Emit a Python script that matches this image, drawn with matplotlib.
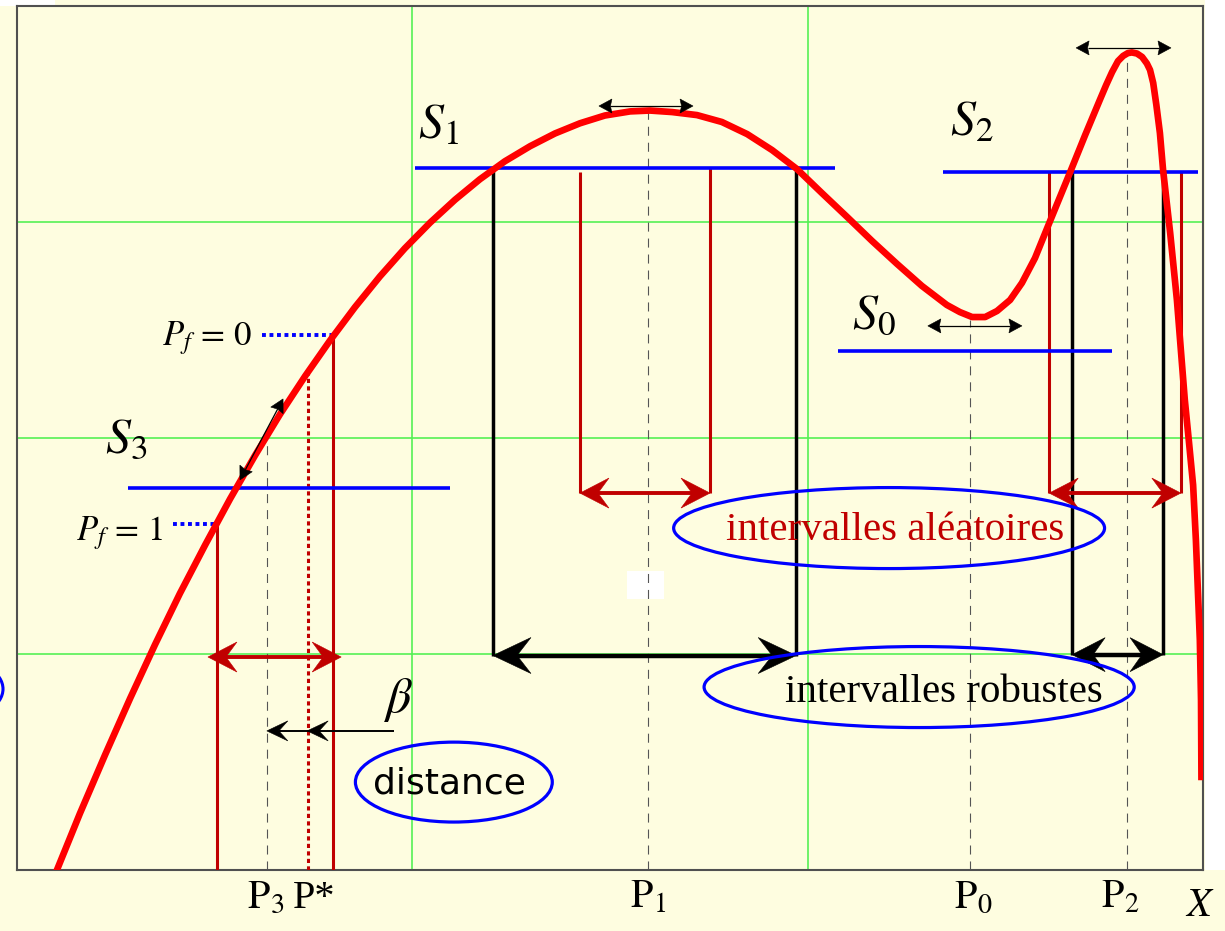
import numpy as np
import matplotlib
matplotlib.use("Agg")
import matplotlib.pyplot as plt
from matplotlib.patches import Polygon, Ellipse, Rectangle

plt.rcParams['mathtext.fontset'] = 'stix'
plt.rcParams['lines.scale_dashes'] = False

# ---------------- data ----------------
# response curve of the system versus the design variable X
curve_x = [0.101, 0.159, 0.223, 0.286, 0.349, 0.412, 0.476, 0.539, 0.602, 0.665,
           0.729, 0.792, 0.855, 0.918, 0.981, 1.045, 1.108, 1.171, 1.234, 1.298,
           1.361, 1.424, 1.487, 1.551, 1.601, 1.657, 1.720, 1.783, 1.847, 1.910,
           1.973, 2.036, 2.100, 2.163, 2.226, 2.289, 2.352, 2.385, 2.416, 2.449,
           2.479, 2.512, 2.542, 2.575, 2.605, 2.633, 2.664, 2.702, 2.739, 2.755,
           2.770, 2.785, 2.798, 2.810, 2.820, 2.833, 2.846, 2.858, 2.866, 2.874,
           2.882, 2.891, 2.899, 2.917, 2.934, 2.954, 2.964, 2.975, 2.982, 2.987,
           2.992, 2.995, 2.996]
curve_y = [0.000, 0.261, 0.534, 0.794, 1.043, 1.280, 1.505, 1.718, 1.919, 2.109,
           2.287, 2.452, 2.606, 2.748, 2.878, 2.997, 3.103, 3.198, 3.281, 3.351,
           3.410, 3.457, 3.493, 3.512, 3.516, 3.509, 3.495, 3.463, 3.407, 3.333,
           3.245, 3.134, 3.023, 2.912, 2.806, 2.704, 2.616, 2.583, 2.560, 2.560,
           2.588, 2.639, 2.718, 2.833, 2.968, 3.093, 3.231, 3.403, 3.565, 3.634,
           3.694, 3.745, 3.769, 3.782, 3.785, 3.780, 3.764, 3.734, 3.704, 3.644,
           3.542, 3.412, 3.241, 2.949, 2.639, 2.176, 1.991, 1.782, 1.528, 1.296,
           1.065, 0.787, 0.431]

# threshold levels S1, S2, S0, S3
level_labels = [r'$S_1$', r'$S_2$', r'$S_0$', r'$S_3$']
level_y = [3.250, 3.231, 2.403, 1.769]
level_x0 = [1.007, 2.342, 2.077, 0.281]
level_x1 = [2.069, 2.987, 2.770, 1.095]
level_label_x = [1.015, 2.361, 2.113, 0.223]
level_label_y = [3.389, 3.403, 2.509, 1.935]

# robust intervals (black)
robust_lo = [1.204, 2.669]
robust_hi = [1.971, 2.899]
robust_top = [3.250, 3.231]
robust_arrow_y = [0.993, 0.997]

# random intervals (dark red)
random_lo = [1.424, 2.611]
random_hi = [1.753, 2.944]
random_top_lo = [3.231, 3.231]
random_top_hi = [3.250, 3.231]
random_arrow_y = [1.745, 1.745]

# reliability zone near S3
pf_labels = [r'$P_f\,=\,1$', r'$P_f\,=\,0$']
pf_x = [0.506, 0.799]
pf_y = [1.600, 2.475]
pf_dot_start = [0.395, 0.620]
pf_label_x = [0.150, 0.366]
pf_label_y = [1.528, 2.431]
pf_arrow_x = [0.483, 0.820]
pf_arrow_y = 0.986
pstar_x = 0.736
pstar_top = 2.306

# optimum positions (dashed markers)
opt_x = [0.632, 1.596, 2.411, 2.808]
opt_top = [2.005, 3.520, 2.545, 3.780]

# small sensitivity arrows at the extrema
sens_x0 = [1.472, 2.304, 2.679]
sens_x1 = [1.710, 2.542, 2.919]
sens_y = [3.537, 2.519, 3.806]
slope_arrow = [(0.564, 1.806), (0.673, 2.181)]

# reliability index beta
beta_x0, beta_x1, beta_mid, beta_y = 0.954, 0.632, 0.734, 0.644

# axis labels along X
xlabels = [r'$\mathrm{P}_3$', 'P*', r'$\mathrm{P}_1$', r'$\mathrm{P}_0$', r'$\mathrm{P}_2$']
xlabel_pos = [0.630, 0.752, 1.596, 2.418, 2.790]

# ---------------- figure ----------------
W, H = 1225, 931
BG = '#FEFDE0'
RED = '#FF0000'
DRED = '#C00000'
BLUE = '#0000FF'
GREEN = '#55F055'
GRAY = '#555555'

fig = plt.figure(figsize=(W / 100, H / 100), dpi=100, facecolor=BG)
ax = fig.add_axes([17 / W, (H - 870) / H, (1203 - 17) / W, (870 - 6) / H])
ax.set_facecolor(BG)
ax.set_xlim(0, 3)
ax.set_ylim(0, 4)
ax.set_xticks([1, 2])
ax.set_yticks([1, 2, 3])
ax.tick_params(length=0, labelbottom=False, labelleft=False)
ax.grid(True, color=GREEN, lw=1.2, zorder=0)
ax.set_axisbelow(True)
for s in ax.spines.values():
    s.set_color('#505050')
    s.set_linewidth(1.5)

# white patches around the frame
fig.patches.append(Rectangle((1205 / W, (H - 870) / H), 1 - 1205 / W, 870 / H,
                             transform=fig.transFigure, fc='white', ec='none', zorder=-1))
fig.patches.append(Rectangle((0, (H - 6) / H), 55 / W, 6 / H,
                             transform=fig.transFigure, fc='white', ec='none', zorder=-1))
ax.add_patch(Rectangle((1.543, 1.255), 0.094, 0.130, fc='white', ec='none', zorder=1))
fig.add_artist(Ellipse((-0.45, (H - 689) / 100), 0.96, 0.60, transform=fig.dpi_scale_trans,
                       fill=False, ec=BLUE, lw=2.2))


def arrow(p0, p1, color, lw, L, Wd, N, start=True, end=True, z=6, extra=()):
    a = ax.transData.transform(p0)
    b = ax.transData.transform(p1)
    d = b - a
    u = d / np.hypot(*d)
    inv = ax.transData.inverted()
    s0 = a + u * (L - N) if start else a
    s1 = b - u * (L - N) if end else b
    q = inv.transform([s0, s1])
    ax.plot(q[:, 0], q[:, 1], color=color, lw=lw, solid_capstyle='butt', zorder=z)
    tips = []
    if start:
        tips.append((a, -u))
    if end:
        tips.append((b, u))
    for e in extra:
        tips.append((ax.transData.transform(e), u))
    for t, v in tips:
        pv = np.array([-v[1], v[0]])
        verts = [t, t - v * L + pv * Wd, t - v * (L - N), t - v * L - pv * Wd]
        ax.add_patch(Polygon(inv.transform(verts), closed=True, fc=color, ec=color,
                             lw=0.4, zorder=z, clip_on=False))


# dashed optimum markers
for x, top in zip(opt_x, opt_top):
    ax.plot([x, x], [0, top], color=GRAY, lw=0.8, ls=(0, (6.5, 5)), zorder=2)

# robust intervals
for lo, hi, top, ya in zip(robust_lo, robust_hi, robust_top, robust_arrow_y):
    ax.plot([lo, lo], [ya, top], color='black', lw=2.5, zorder=3, solid_capstyle='butt')
    ax.plot([hi, hi], [ya, top], color='black', lw=2.5, zorder=3, solid_capstyle='butt')
big = [dict(L=38, Wd=18, N=14), dict(L=33, Wd=17, N=12)]
for lo, hi, ya, h in zip(robust_lo, robust_hi, robust_arrow_y, big):
    arrow((lo, ya), (hi, ya), 'black', 3.2, **h)

# random intervals
for lo, hi, tl, th, ya in zip(random_lo, random_hi, random_top_lo, random_top_hi, random_arrow_y):
    ax.plot([lo, lo], [ya, tl], color=DRED, lw=2.2, zorder=3, solid_capstyle='butt')
    ax.plot([hi, hi], [ya, th], color=DRED, lw=2.2, zorder=3, solid_capstyle='butt')
    arrow((lo, ya), (hi, ya), DRED, 2.8, L=29, Wd=15, N=11)

# reliability zone
for x, y, xs in zip(pf_x, pf_y, pf_dot_start):
    ax.plot([x, x], [0, y], color=DRED, lw=2.2, zorder=3, solid_capstyle='butt')
    ax.plot([xs, x], [y, y], color=BLUE, lw=2.8, ls=(0, (2.8, 2.6)), zorder=3,
            dash_capstyle='butt')
ax.plot([pstar_x, pstar_x], [0, pstar_top], color=DRED, lw=2.2, ls=(0, (3.0, 2.4)),
        dash_capstyle='butt', zorder=3)
arrow((pf_arrow_x[0], pf_arrow_y), (pf_arrow_x[1], pf_arrow_y), DRED, 2.8, L=29, Wd=15, N=11)

# threshold levels
for lab, y, x0, x1, lx, ly in zip(level_labels, level_y, level_x0, level_x1,
                                  level_label_x, level_label_y):
    ax.plot([x0, x1], [y, y], color=BLUE, lw=2.6, zorder=4, solid_capstyle='butt')
    ax.text(lx, ly, lab, fontsize=36, ha='left', va='baseline', zorder=8)

# response curve
ax.plot(curve_x, curve_y, color=RED, lw=4.8, zorder=5, solid_joinstyle='round')

# sensitivity arrows
for x0, x1, y in zip(sens_x0, sens_x1, sens_y):
    arrow((x0, y), (x1, y), 'black', 0.9, L=13, Wd=7, N=1.5, z=7)
arrow(slope_arrow[0], slope_arrow[1], 'black', 0.9, L=13, Wd=7, N=1.5, z=7)

# beta distance arrow
arrow((beta_x0, beta_y), (beta_x1, beta_y), 'black', 1.4, L=21, Wd=10, N=9,
      start=False, end=True, z=7, extra=[(beta_mid, beta_y)])
ax.text(0.964, 0.787, r'$\beta$', fontsize=36, ha='center', va='center', zorder=8)

# Pf labels
for lab, lx, ly in zip(pf_labels, pf_label_x, pf_label_y):
    ax.text(lx, ly, lab, fontsize=25, ha='left', va='baseline', zorder=8)

# annotation ellipses
ax.add_patch(Ellipse((1.105, 0.407), 0.498, 0.370, fill=False, ec=BLUE, lw=2.3, zorder=7))
ax.text(1.093, 0.356, 'distance', fontsize=26, family='DejaVu Sans', ha='center',
        va='baseline', zorder=8)
ax.add_patch(Ellipse((2.206, 1.583), 1.090, 0.375, fill=False, ec=BLUE, lw=2.3, zorder=7))
ax.text(2.221, 1.528, 'intervalles aléatoires', fontsize=29.5, family='Liberation Serif',
        color=DRED, ha='center', va='baseline', zorder=8)
ax.add_patch(Ellipse((2.282, 0.847), 1.088, 0.375, fill=False, ec=BLUE, lw=2.3, zorder=7))
ax.text(2.345, 0.778, 'intervalles robustes', fontsize=29.5, family='Liberation Serif',
        color='black', ha='center', va='baseline', zorder=8)

# labels along X
for lab, x in zip(xlabels, xlabel_pos):
    ax.text(x, -0.176, lab, fontsize=29, family='Liberation Serif', ha='center',
            va='baseline', clip_on=False)
ax.text(2.992, -0.213, r'$X$', fontsize=29, ha='center', va='baseline', clip_on=False)

fig.savefig('out.png', dpi=100, facecolor=BG)
